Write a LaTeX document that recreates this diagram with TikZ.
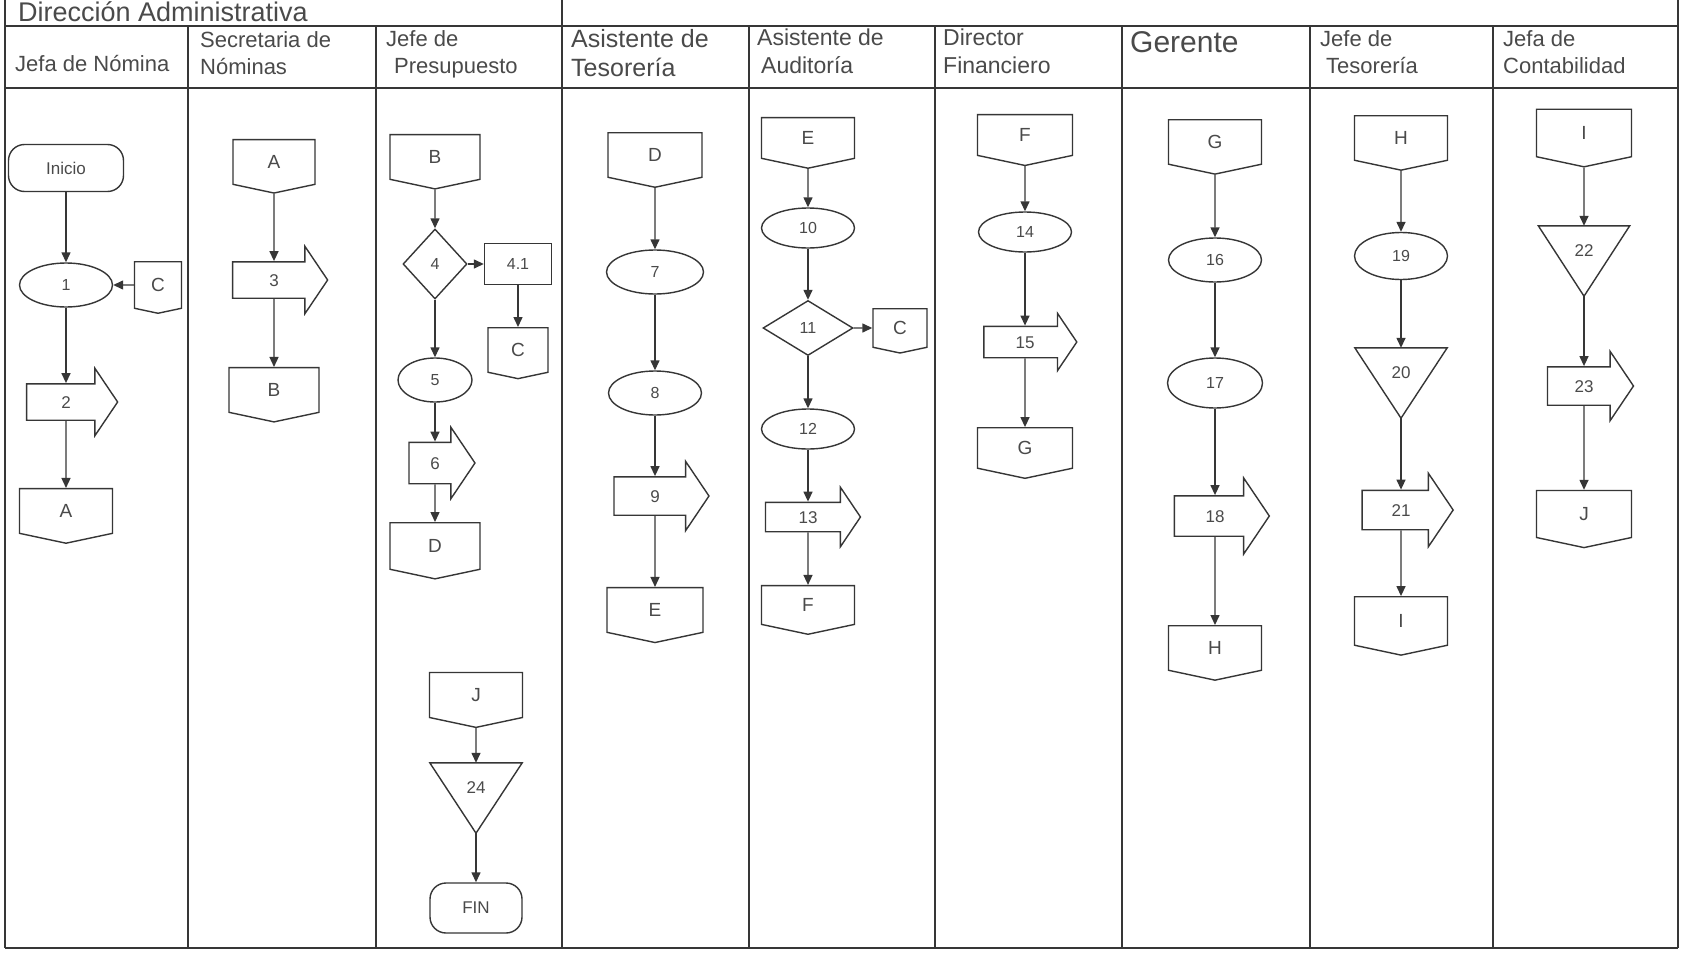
\documentclass[tikz,border=0pt]{standalone}
\usepackage{fontspec}
\setmainfont{Liberation Sans}
\usetikzlibrary{arrows.meta,positioning,shapes.geometric,shapes.symbols,shapes.arrows}
\definecolor{ink}{HTML}{363636}
\definecolor{inkl}{HTML}{4A4A4A}

\begin{document}
\begin{tikzpicture}[x=1pt,y=-1pt,
    lane/.style={line width=1.8pt,draw=ink},
    hdr/.style={anchor=north west,align=left,text=inkl,inner sep=0pt,font=\fontsize{22}{27}\selectfont},
    oper/.style={ellipse,draw=ink,line width=1.4pt,minimum width=93pt,minimum height=44pt,inner sep=0pt,text=inkl,font=\fontsize{16}{16}\selectfont},
    insp/.style={diamond,draw=ink,line width=1.4pt,inner sep=0pt,text=inkl,font=\fontsize{16}{16}\selectfont},
    transp/.style={single arrow,draw=ink,line width=1.4pt,inner xsep=0pt,inner ysep=11.5pt,text height=12pt,text depth=0pt,single arrow head extend=15.5pt,single arrow tip angle=112,minimum height=95pt,minimum width=66pt,text=inkl,font=\fontsize{17}{17}\selectfont},
    conec/.style={signal,signal to=south,signal pointer angle=156,draw=ink,line width=1.4pt,minimum width=93pt,minimum height=46pt,inner sep=0pt,text=inkl,font=\fontsize{19}{19}\selectfont},
    archivo/.style={minimum width=92pt,minimum height=70pt,inner sep=0pt,text=inkl,font=\fontsize{17}{17}\selectfont},
    term/.style={rectangle,rounded corners=16pt,draw=ink,line width=1.4pt,minimum width=115pt,minimum height=47pt,inner sep=0pt,text=inkl,font=\fontsize{17}{17}\selectfont},
    arr/.style={-{Triangle[length=10pt,width=9pt]},line width=1.4pt,draw=ink}
]
\useasboundingbox (0,0) rectangle (1683,958);
\fill[white] (0,0) rectangle (1683,958);

% marco y carriles
\draw[lane] (5,26) -- (1678,26);
\draw[lane] (5,88) -- (1678,88);
\draw[lane] (5,948) -- (1678,948);
\foreach \x in {5,562,1678} \draw[lane] (\x,0) -- (\x,948);
\foreach \x in {188,376,749,935,1122,1310,1493} \draw[lane] (\x,26) -- (\x,948);

% encabezados
\node[anchor=base west,inner sep=0pt,text=inkl,font=\fontsize{27}{27}\selectfont] (dir) at (18,22) {Dirección Administrativa};
\node[hdr,anchor=west] (h1) at (15,64) {Jefa de Nómina};
\node[hdr] (h2) at (200,31) {Secretaria de\\Nóminas};
\node[hdr] (h3) at (386,30) {Jefe de\\\hspace*{8pt}Presupuesto};
\node[hdr,font=\fontsize{25}{29}\selectfont] (h4) at (571,29) {Asistente de\\Tesorería};
\node[hdr,font=\fontsize{23}{28}\selectfont] (h5) at (757,29) {Asistente de\\\hspace*{4pt}Auditoría};
\node[hdr,font=\fontsize{23}{28}\selectfont] (h6) at (943,29) {Director\\Financiero};
\node[hdr,font=\fontsize{30}{30}\selectfont] (h7) at (1130,31) {Gerente};
\node[hdr] (h8) at (1320,30) {Jefe de\\\hspace*{6pt}Tesorería};
\node[hdr] (h9) at (1503,30) {Jefa de\\Contabilidad};

% Jefa de Nómina
\node[term] (ini) at (66,168) {Inicio};
\node[oper] (n1) at (66,285) {1};
\node[conec,minimum width=47pt,minimum height=48pt] (c1) at (158,285) {C};
\node[transp,minimum height=91pt,minimum width=65pt] (n2) at (66,402) {2};
\node[conec] (a1) at (66,511) {A};

% Secretaria de Nóminas
\node[conec,minimum width=82pt] (a2) at (274,162) {A};
\node[transp] (n3) at (274,280) {3};
\node[conec,minimum width=90pt] (b1) at (274,390) {B};

% Jefe de Presupuesto
\node[conec,minimum width=90pt] (b2) at (435,157) {B};
\node[insp,minimum width=64pt,minimum height=70pt] (n4) at (435,264) {4};
\node[draw=ink,line width=1.4pt,minimum width=67pt,minimum height=41pt,inner sep=0pt,text=inkl,font=\fontsize{16}{16}\selectfont] (n41) at (518,264) {4.1};
\node[conec,minimum width=60pt] (cc1) at (518,350) {C};
\node[oper,minimum width=74pt] (n5) at (435,380) {5};
\node[transp,minimum height=66pt,minimum width=70pt,inner ysep=14pt,single arrow head extend=15pt] (n6) at (435,463) {6};
\node[conec,minimum width=90pt,minimum height=48pt] (d1) at (435,546) {D};
\node[conec] (j2) at (476,695) {J};
\node[archivo] (n24) at (476,798) {\raisebox{20pt}{24}};
\node[term,minimum width=92pt,minimum height=50pt] (fin) at (476,908) {FIN};

% Asistente de Tesorería
\node[conec,minimum width=94pt] (d2) at (655,155) {D};
\node[oper,minimum width=97pt] (n7) at (655,272) {7};
\node[oper] (n8) at (655,393) {8};
\node[transp,minimum width=68pt,inner ysep=12.5pt] (n9) at (655,496) {9};
\node[conec,minimum width=96pt] (e1) at (655,610) {E};

% Asistente de Auditoría
\node[conec,minimum height=42pt] (e2) at (808,138) {E};
\node[oper,minimum height=40pt] (n10) at (808,228) {10};
\node[insp,minimum width=90pt,minimum height=55pt] (n11) at (808,328) {11};
\node[conec,minimum width=54pt,minimum height=40pt] (cc2) at (900,328) {C};
\node[oper,minimum height=40pt] (n12) at (808,429) {12};
\node[transp,minimum width=58pt,inner ysep=8pt,single arrow head extend=15pt] (n13) at (808,517) {13};
\node[conec,minimum height=40pt] (f1) at (808,605) {F};

% Director Financiero
\node[conec,minimum width=95pt,minimum height=42pt] (f2) at (1025,135) {F};
\node[oper,minimum height=40pt] (n14) at (1025,232) {14};
\node[transp,minimum height=93pt,minimum width=56pt,inner ysep=9pt,single arrow head extend=13pt] (n15) at (1025,342) {15};
\node[conec,minimum width=95pt,minimum height=42pt] (g1) at (1025,448) {G};

% Gerente
\node[conec] (g2) at (1215,142) {G};
\node[oper] (n16) at (1215,260) {16};
\node[oper,minimum width=95pt,minimum height=50pt] (n17) at (1215,383) {17};
\node[transp,minimum width=75pt,inner ysep=13.5pt,single arrow head extend=18pt] (n18) at (1215,516) {18};
\node[conec] (h1b) at (1215,648) {H};

% Jefe de Tesorería
\node[conec] (h2b) at (1401,138) {H};
\node[oper,minimum height=47pt] (n19) at (1401,256) {19};
\node[archivo] (n20) at (1401,383) {\raisebox{20pt}{20}};
\node[transp,minimum height=91pt,minimum width=72pt,inner ysep=13pt,single arrow head extend=17pt] (n21) at (1401,510) {21};
\node[conec,minimum height=49pt] (i1) at (1401,621) {I};

% Jefa de Contabilidad
\node[conec,minimum width=95pt,minimum height=48pt] (i2) at (1584,133) {I};
\node[archivo,minimum width=91pt] (n22) at (1584,261) {\raisebox{20pt}{22}};
\node[transp,minimum height=86pt,minimum width=67pt,inner ysep=12.5pt] (n23) at (1584,386) {23};
\node[conec,minimum width=95pt,minimum height=48pt] (j1) at (1584,514) {J};

% triangulos de archivo
\foreach \t in {n20,n22,n24}
    \draw[line width=1.4pt,ink] (\t.north west) -- (\t.north east) -- (\t.south) -- cycle;

% flujo
\draw[arr] (ini) -- (n1);
\draw[arr] (c1) -- (n1);
\draw[arr] (n1) -- (n2);
\draw[arr] (n2) -- (a1);
\draw[arr] (a2) -- (n3);
\draw[arr] (n3) -- (b1);
\draw[arr] (b2) -- (n4);
\draw[arr] (n4) -- (n41);
\draw[arr] (n41) -- (cc1);
\draw[arr] (n4) -- (n5);
\draw[arr] (n5) -- (n6);
\draw[arr] (n6) -- (d1);
\draw[arr] (j2) -- (n24);
\draw[arr] (n24) -- (fin);
\draw[arr] (d2) -- (n7);
\draw[arr] (n7) -- (n8);
\draw[arr] (n8) -- (n9);
\draw[arr] (n9) -- (e1);
\draw[arr] (e2) -- (n10);
\draw[arr] (n10) -- (n11);
\draw[arr] (n11) -- (cc2);
\draw[arr] (n11) -- (n12);
\draw[arr] (n12) -- (n13);
\draw[arr] (n13) -- (f1);
\draw[arr] (f2) -- (n14);
\draw[arr] (n14) -- (n15);
\draw[arr] (n15) -- (g1);
\draw[arr] (g2) -- (n16);
\draw[arr] (n16) -- (n17);
\draw[arr] (n17) -- (n18);
\draw[arr] (n18) -- (h1b);
\draw[arr] (h2b) -- (n19);
\draw[arr] (n19) -- (n20);
\draw[arr] (n20) -- (n21);
\draw[arr] (n21) -- (i1);
\draw[arr] (i2) -- (n22);
\draw[arr] (n22) -- (n23);
\draw[arr] (n23) -- (j1);
\end{tikzpicture}
\end{document}
